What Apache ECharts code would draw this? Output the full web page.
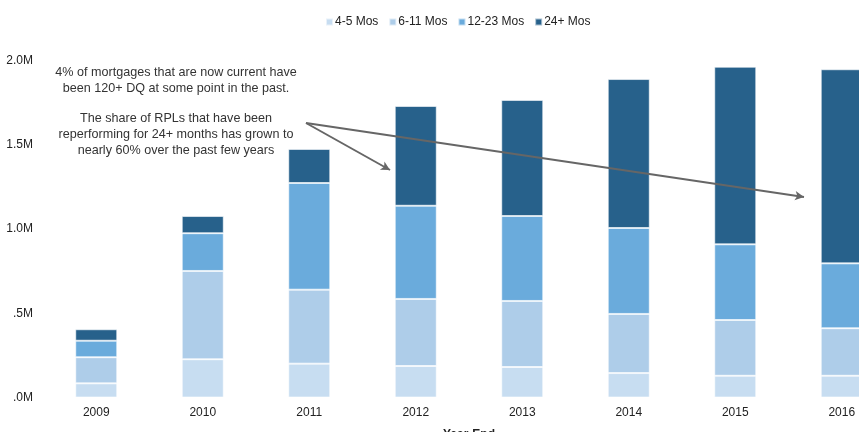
<!DOCTYPE html>
<html>
<head>
<meta charset="utf-8">
<script src="https://cdn.jsdelivr.net/npm/echarts@6/dist/echarts.min.js"></script>
<style>
  html, body { margin: 0; padding: 0; background: #fff; }
  #chart { width: 859px; height: 432px; }
</style>
</head>
<body>
<div id="chart"></div>
<script>
// values in millions of loans
const years = ['2009', '2010', '2011', '2012', '2013', '2014', '2015', '2016'];
const mos4to5 = [0.084, 0.227, 0.201, 0.187, 0.181, 0.145, 0.129, 0.129];
const mos6to11 = [0.155, 0.524, 0.439, 0.398, 0.392, 0.351, 0.331, 0.282];
const mos12to23 = [0.098, 0.224, 0.633, 0.553, 0.504, 0.510, 0.449, 0.385];
const mos24plus = [0.068, 0.102, 0.202, 0.592, 0.689, 0.884, 1.054, 1.152];
const yTicks = [0, 0.5, 1.0, 1.5, 2.0];

const chart = echarts.init(document.getElementById('chart'));
const font = 'Liberation Sans, Arial, sans-serif';

const fmtY = (v) => {
    if (v < 1) return '.' + Math.round(v * 10) + 'M';
    return v.toFixed(1) + 'M';
};

const barStyle = (color) => ({
    color: color,
    borderColor: 'rgba(255,255,255,0.6)',
    borderWidth: 1
});

const option = {
    animation: false,
    textStyle: { fontFamily: font },
    legend: {
        top: 11,
        left: 320,
        icon: 'rect',
        itemWidth: 7,
        itemHeight: 7,
        itemGap: 10,
        textStyle: { fontSize: 12, color: '#222', fontFamily: font, padding: [0, 0, 0, -3] },
        data: ['4-5 Mos', '6-11 Mos', '12-23 Mos', '24+ Mos']
    },
    grid: {
        left: 43,
        right: -36,
        top: 60.5,
        bottom: 34.5,
        containLabel: false,
        outerBoundsMode: 'none'
    },
    xAxis: {
        type: 'category',
        data: years,
        name: 'Year-End',
        nameLocation: 'middle',
        nameGap: 31,
        nameTextStyle: { fontSize: 12, fontWeight: 'bold', color: '#222', fontFamily: font },
        axisLine: { show: false },
        axisTick: { show: false },
        axisLabel: { fontSize: 12, color: '#222', margin: 9, fontFamily: font }
    },
    yAxis: {
        type: 'value',
        min: yTicks[0],
        max: yTicks[yTicks.length - 1],
        interval: 0.5,
        axisLine: { show: false },
        axisTick: { show: false },
        splitLine: { show: false },
        axisLabel: { fontSize: 12, color: '#222', margin: 10, fontFamily: font, formatter: fmtY }
    },
    series: [
        { name: '4-5 Mos', type: 'bar', stack: 'rpl', barWidth: 42, data: mos4to5, itemStyle: barStyle('#c7ddf1') },
        { name: '6-11 Mos', type: 'bar', stack: 'rpl', barWidth: 42, data: mos6to11, itemStyle: barStyle('#aecde9') },
        { name: '12-23 Mos', type: 'bar', stack: 'rpl', barWidth: 42, data: mos12to23, itemStyle: barStyle('#6aabdc') },
        {
            name: '24+ Mos', type: 'bar', stack: 'rpl', barWidth: 42, data: mos24plus,
            itemStyle: barStyle('#27618b'),
            markLine: {
                silent: true,
                symbol: ['none', 'arrow'],
                symbolSize: [7, 9],
                label: { show: false },
                lineStyle: { color: '#666', width: 2, type: 'solid' },
                data: [
                    [{ x: 306, y: 123 }, { x: 390, y: 170 }],
                    [{ x: 306, y: 123 }, { x: 804, y: 197 }]
                ]
            }
        }
    ],
    graphic: [
        {
            type: 'text',
            x: 176,
            y: 65,
            style: {
                text: '4% of mortgages that are now current have\nbeen 120+ DQ at some point in the past.',
                textAlign: 'center',
                textVerticalAlign: 'top',
                fill: '#333',
                font: '12.6px ' + font,
                lineHeight: 16
            }
        },
        {
            type: 'text',
            x: 176,
            y: 111,
            style: {
                text: 'The share of RPLs that have been\nreperforming for 24+ months has grown to\nnearly 60% over the past few years',
                textAlign: 'center',
                textVerticalAlign: 'top',
                fill: '#333',
                font: '12.6px ' + font,
                lineHeight: 16
            }
        }
    ]
};

chart.setOption(option);
</script>
</body>
</html>
